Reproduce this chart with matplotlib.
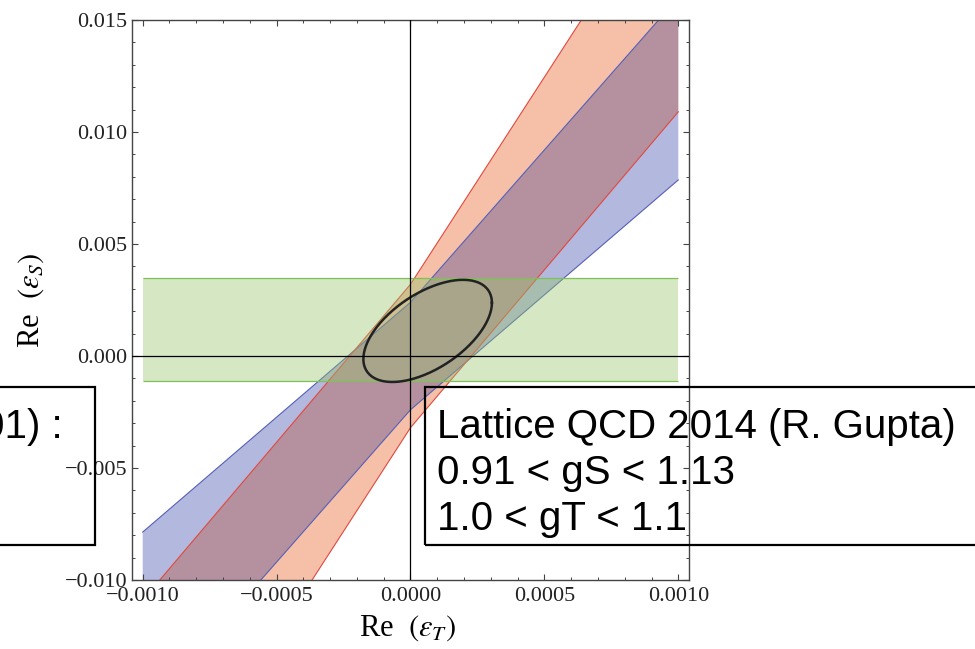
import numpy as np
import matplotlib
matplotlib.use("Agg")
import matplotlib.pyplot as plt
from matplotlib.patches import Rectangle
from matplotlib.ticker import MultipleLocator

plt.rcParams['mathtext.fontset'] = 'stix'

# band edges: value of Re(eps_S) at these Re(eps_T) columns
band_x = [-0.001, 0.0, 0.001]
blue_upper = [-0.00786, 0.0024, 0.0160]
blue_lower = [-0.0160, -0.0024, 0.00786]
red_upper = [-0.0109, 0.0032, 0.0217]
red_lower = [-0.0217, -0.0032, 0.0109]

# green band (Re eps_S range over the plotted eps_T range)
green_lo, green_hi = -0.0011, 0.0035

# combined ellipse: centre, half extents, correlation
ell_center = (0.000064, 0.00112)
ell_half = (0.00024, 0.00228)
ell_rho = 0.55

xtick_vals = [-0.001, -0.0005, 0.0, 0.0005, 0.001]
xtick_labels = ['\u22120.0010', '\u22120.0005', '0.0000', '0.0005', '0.0010']
ytick_vals = [-0.010, -0.005, 0.0, 0.005, 0.010, 0.015]
ytick_labels = ['\u22120.010', '\u22120.005', '0.000', '0.005', '0.010', '0.015']

right_box_lines = ['Lattice QCD 2014 (R. Gupta)', '0.91 < gS < 1.13', '1.0 < gT < 1.1']
left_box_line = 'Quark model (Herczeg 2001) :'

W, H = 975, 649
fig = plt.figure(figsize=(W / 100, H / 100), dpi=100)
ax = fig.add_axes([132 / W, 1 - 580 / H, 557 / W, 560 / H])


def band_poly(upper, lower):
    xs = list(band_x) + list(band_x[::-1])
    ys = list(upper) + list(lower[::-1])
    return xs, ys


bx, by = band_poly(blue_upper, blue_lower)
rx, ry = band_poly(red_upper, red_lower)

blue_patch, = ax.fill(bx, by, color='#b3b8de', lw=0, zorder=1)
ax.fill(rx, ry, color='#f6c0a8', lw=0, zorder=1.1)
overlap, = ax.fill(rx, ry, color='#b5919f', lw=0, zorder=1.2)
overlap.set_clip_path(blue_patch)

ax.plot(band_x, blue_upper, color='#5560b8', lw=0.8, zorder=2)
ax.plot(band_x, blue_lower, color='#5560b8', lw=0.8, zorder=2)
ax.plot(band_x, red_upper, color='#e0483e', lw=0.8, zorder=2)
ax.plot(band_x, red_lower, color='#e0483e', lw=0.8, zorder=2)

# green band on top, semi transparent
ax.fill_between([band_x[0], band_x[-1]], green_lo, green_hi,
                color='#96c56b', alpha=0.4, lw=0, zorder=3)
ax.hlines([green_lo, green_hi], band_x[0], band_x[-1],
          color='#7cc257', lw=0.9, zorder=3.1)

t = np.linspace(0, 2 * np.pi, 300)
phi = np.arccos(ell_rho)
ex = ell_center[0] + ell_half[0] * np.cos(t)
ey = ell_center[1] + ell_half[1] * np.cos(t - phi)
ax.plot(ex, ey, color='#222222', lw=1.8, zorder=4)

ax.axhline(0, color='k', lw=0.9, zorder=5)
ax.axvline(0, color='k', lw=0.9, zorder=5)

ax.set_xlim(-0.00104, 0.00104)
ax.set_ylim(-0.010, 0.015)

ax.set_xticks(xtick_vals)
ax.set_xticklabels(xtick_labels)
ax.set_yticks(ytick_vals)
ax.set_yticklabels(ytick_labels)
ax.xaxis.set_minor_locator(MultipleLocator(0.0001))
ax.yaxis.set_minor_locator(MultipleLocator(0.001))

for s in ax.spines.values():
    s.set_color('#444444')
    s.set_linewidth(1.0)

ax.tick_params(which='both', direction='in', top=True, right=True,
               color='#444444', labelcolor='#222222')
ax.tick_params(which='major', length=4.5, width=0.8, labelsize=16)
ax.tick_params(which='minor', length=2.4, width=0.7)
ax.tick_params(axis='x', pad=5)
ax.tick_params(axis='y', pad=3.5)
for lab in ax.get_xticklabels() + ax.get_yticklabels():
    lab.set_family('Liberation Serif')

ax.set_xlabel(r'Re  $(\varepsilon_T)$', fontsize=22, family='Liberation Serif', va='baseline')
ax.xaxis.set_label_coords(0.495, -(636 - 580) / 560)
ax.set_ylabel(r'Re  $(\varepsilon_S)$', fontsize=22, family='Liberation Serif',
              va='center', ha='center')
ax.yaxis.set_label_coords((31 - 132) / 557, 0.5)

# annotation boxes drawn over the figure
box_top, box_bot = 387, 545
fig.patches.append(Rectangle((425 / W, 1 - box_bot / H), 700 / W, (box_bot - box_top) / H,
                             transform=fig.transFigure, fill=False, ec='k', lw=1.6, zorder=10))
fig.patches.append(Rectangle((-100 / W, 1 - box_bot / H), 195 / W, (box_bot - box_top) / H,
                             transform=fig.transFigure, fill=False, ec='k', lw=1.6, zorder=10))

for i, line in enumerate(right_box_lines):
    fig.text(437 / W, 1 - (438 + 46 * i) / H, line, fontsize=29,
             family='Liberation Sans', va='baseline', ha='left', zorder=11)
fig.text(63 / W, 1 - 438 / H, left_box_line, fontsize=29,
         family='Liberation Sans', va='baseline', ha='right', zorder=11)

fig.savefig('out.png', dpi=100)
